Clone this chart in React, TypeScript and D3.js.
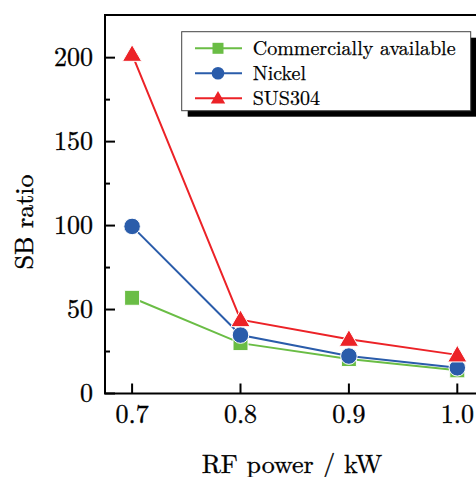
import React, { useRef, useEffect } from 'react';
import * as d3 from 'd3';

const rfPower = [0.7, 0.8, 0.9, 1.0];
const commercial = [57, 30, 20.5, 13.8];
const nickel = [99.5, 34.8, 22.3, 15.3];
const sus304 = [202, 44, 32.3, 23];
const yTicks = [0, 50, 100, 150, 200];
const yMinor = [25, 75, 125, 175];
const seriesNames = ['Commercially available', 'Nickel', 'SUS304'];

const FONT = '"Latin Modern Roman"';

const App = () => {
  const svgRef = useRef<SVGSVGElement>(null);

  useEffect(() => {
    const svg = d3.select(svgRef.current);
    svg.selectAll('*').remove();

    const left = 105, top = 15, bottom = 393.5;
    const x = d3.scaleLinear().domain([0.675, 1.025]).range([left, 484.4]);
    const y = d3.scaleLinear().domain([0, 225.4]).range([bottom, top]);

    const series = [
      { name: seriesNames[0], values: commercial, color: '#6abd45', shape: d3.symbolSquare },
      { name: seriesNames[1], values: nickel, color: '#2a5caa', shape: d3.symbolCircle },
      { name: seriesNames[2], values: sus304, color: '#ec2227', shape: d3.symbolTriangle },
    ];
    const sizes = [225, 215, 160];

    // frame
    svg.append('path')
      .attr('d', `M${x(1.025)},${top}H${left}V${bottom}H${x(1.025)}`)
      .attr('fill', 'none').attr('stroke', '#000').attr('stroke-width', 2);

    // y ticks (inward)
    const yAxis = svg.append('g');
    yAxis.selectAll('line.major').data(yTicks).join('line')
      .attr('x1', left).attr('x2', left + 10)
      .attr('y1', d => y(d)).attr('y2', d => y(d))
      .attr('stroke', '#000').attr('stroke-width', 2);
    yAxis.selectAll('line.minor').data(yMinor).join('line')
      .attr('class', 'minor')
      .attr('x1', left).attr('x2', left + 5)
      .attr('y1', d => y(d)).attr('y2', d => y(d))
      .attr('stroke', '#000').attr('stroke-width', 2);
    yAxis.selectAll('text').data(yTicks).join('text')
      .attr('x', 93).attr('y', d => y(d) + 8)
      .attr('text-anchor', 'end')
      .attr('font-family', FONT).attr('font-size', 26)
      .attr('stroke', '#000').attr('stroke-width', 0.35)
      .text(d => d);

    // x ticks (inward)
    const xAxis = svg.append('g');
    xAxis.selectAll('line').data(rfPower).join('line')
      .attr('x1', d => x(d)).attr('x2', d => x(d))
      .attr('y1', bottom).attr('y2', bottom - 10)
      .attr('stroke', '#000').attr('stroke-width', 2);
    xAxis.selectAll('text').data(rfPower).join('text')
      .attr('x', d => x(d)).attr('y', 423)
      .attr('text-anchor', 'middle')
      .attr('font-family', FONT).attr('font-size', 26)
      .attr('stroke', '#000').attr('stroke-width', 0.35)
      .text(d => d.toFixed(1));

    // axis titles
    svg.append('text')
      .attr('transform', 'translate(33,222) rotate(-90)')
      .attr('text-anchor', 'middle')
      .attr('font-family', FONT).attr('font-size', 26)
      .attr('stroke', '#000').attr('stroke-width', 0.35)
      .text('SB ratio');
    svg.append('text')
      .attr('x', 292).attr('y', 473)
      .attr('text-anchor', 'middle')
      .attr('font-family', FONT).attr('font-size', 26)
      .attr('stroke', '#000').attr('stroke-width', 0.35)
      .text('RF power / kW');

    // series
    const line = d3.line<number>().x((d, i) => x(rfPower[i])).y(d => y(d));
    series.forEach((s, k) => {
      svg.append('path')
        .attr('d', line(s.values))
        .attr('fill', 'none').attr('stroke', s.color).attr('stroke-width', 2);
      svg.selectAll(`path.m${k}`).data(s.values).join('path')
        .attr('class', `m${k}`)
        .attr('transform', (d, i) => `translate(${x(rfPower[i])},${y(d) + (k === 2 ? 1.5 : 0)})`)
        .attr('d', d3.symbol().type(s.shape).size(sizes[k])())
        .attr('fill', s.color).attr('stroke', '#fff').attr('stroke-width', 1);
    });

    // legend
    const lg = svg.append('g');
    lg.append('rect').attr('x', 187.7).attr('y', 37.7).attr('width', 289).attr('height', 79).attr('fill', '#000');
    lg.append('rect').attr('x', 181.7).attr('y', 31.7).attr('width', 289).attr('height', 79)
      .attr('fill', '#fff').attr('stroke', '#444').attr('stroke-width', 1);
    const legendSizes = [121, 125, 90];
    series.forEach((s, k) => {
      const cy = 48.3 + k * 25;
      lg.append('line').attr('x1', 195).attr('x2', 242).attr('y1', cy).attr('y2', cy)
        .attr('stroke', s.color).attr('stroke-width', 2);
      lg.append('path')
        .attr('transform', `translate(218,${cy + (k === 2 ? 1 : 0)})`)
        .attr('d', d3.symbol().type(s.shape).size(legendSizes[k])())
        .attr('fill', s.color);
      lg.append('text').attr('x', 252.7).attr('y', cy + 6.5)
        .attr('font-family', FONT).attr('font-size', 20)
        .attr('stroke', '#000').attr('stroke-width', 0.25)
        .text(s.name);
    });
  }, []);

  return (
    <svg ref={svgRef} width={476} height={477}
      style={{ position: 'absolute', left: 0, top: 0, background: '#fff' }} />
  );
};

export default App;
